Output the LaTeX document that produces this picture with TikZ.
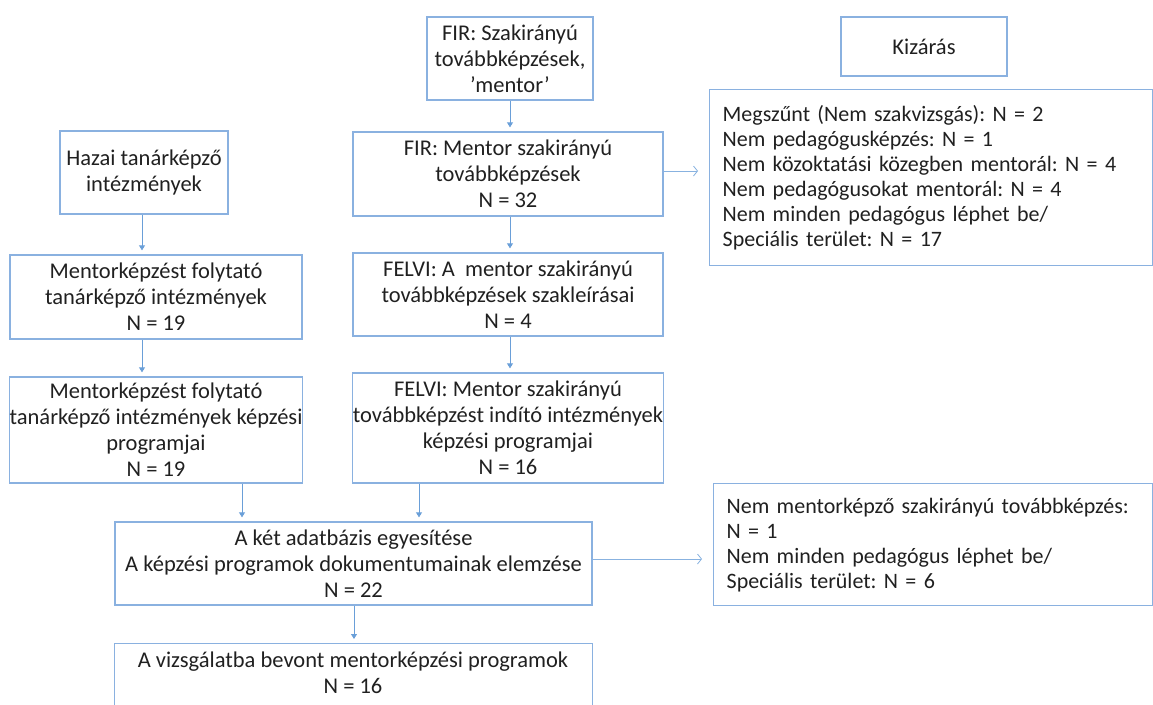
\documentclass[tikz,border=0pt]{standalone}
\usepackage{fontspec}
\setmainfont{Carlito}
\usetikzlibrary{arrows.meta}
\frenchspacing
\definecolor{bordc}{HTML}{8AB1E0}
\definecolor{arrc}{HTML}{6A9FD8}
\definecolor{txtc}{HTML}{202020}
\tikzset{
  box/.style={draw=bordc, line width=1.3pt, rectangle, inner sep=0pt, align=center, text=txtc,
    font=\fontsize{22.5}{26}\selectfont},
  listbox/.style={box, align=left, anchor=north west, inner xsep=13pt,
    font=\fontsize{22}{25}\selectfont},
  darr/.style={draw=arrc, line width=0.8pt, -{Triangle[width=6pt,length=5pt]}, shorten >=4pt},
  rarr/.style={draw=arrc!80, line width=0.8pt, -{Straight Barb[length=4pt,width=10pt]}},
}
\begin{document}
\begin{tikzpicture}[x=1pt,y=-1pt]
\useasboundingbox (0,0) rectangle (1153,704);
% top centre
\node[box, minimum width=166pt, minimum height=83pt] (fir) at (510,58.5)
  {FIR: Szakirányú\\továbbképzések,\\’mentor’};
\node[box, minimum width=166pt, minimum height=59pt] (kiz) at (924,46.5) {Kizárás};
\node[listbox, minimum width=443pt, minimum height=176pt, text width=417pt] (list1) at (709,89)
  {Megszűnt (Nem szakvizsgás): N = 2\\
   Nem pedagógusképzés: N = 1\\
   Nem közoktatási közegben mentorál: N = 4\\
   Nem pedagógusokat mentorál: N = 4\\
   Nem minden pedagógus léphet be/\\
   Speciális terület: N = 17};
\node[box, minimum width=168pt, minimum height=83pt] (haz) at (144,172.5)
  {Hazai tanárképző\\intézmények};
\node[box, minimum width=310pt, minimum height=84pt] (firm) at (508,174)
  {FIR: Mentor szakirányú\\továbbképzések\\N = 32};
\node[box, minimum width=292pt, minimum height=84pt] (l2) at (156,297)
  {Mentorképzést folytató\\tanárképző intézmények\\N = 19};
\node[box, minimum width=310pt, minimum height=83pt] (fa) at (508,294.5)
  {FELVI: A \ mentor szakirányú\\továbbképzések szakleírásai\\N = 4};
\node[box, minimum width=292pt, minimum height=106pt] (l3) at (156,430)
  {Mentorképzést folytató\\tanárképző intézmények képzési\\programjai\\N = 19};
\node[box, minimum width=310pt, minimum height=110pt] (fm) at (508,428)
  {FELVI: Mentor szakirányú\\továbbképzést indító intézmények\\képzési programjai\\N = 16};
\node[box, minimum width=477pt, minimum height=83pt] (mer) at (353.5,563.5)
  {A két adatbázis egyesítése\\A képzési programok dokumentumainak elemzése\\N = 22};
\node[listbox, minimum width=439pt, minimum height=122pt, text width=413pt] (list2) at (713,483)
  {Nem mentorképző szakirányú továbbképzés:\\
   N = 1\\
   Nem minden pedagógus léphet be/\\
   Speciális terület: N = 6};
\node[box, minimum width=478pt, minimum height=90pt, anchor=north west] (bot) at (114,643) {};
\node[text=txtc, font=\fontsize{22.5}{26}\selectfont, align=center, anchor=north] (bott) at (353,648)
  {A vizsgálatba bevont mentorképzési programok\\N = 16};
% coordinates
\coordinate (xa) at (142,0);
\coordinate (xb) at (242,0);
\coordinate (xc) at (419,0);
\coordinate (xd) at (510,0);
\coordinate (xe) at (354,0);
\coordinate (ya) at (0,171);
\coordinate (yb) at (0,559);
\coordinate (ea) at (698,171);
\coordinate (eb) at (702,559);
% arrows
\draw[darr] (fir.south) -- (fir.south |- firm.north);
\draw[darr] (haz.south -| xa) -- (l2.north -| xa);
\draw[darr] (firm.south -| xd) -- (fa.north -| xd);
\draw[darr] (l2.south -| xa) -- (l3.north -| xa);
\draw[darr] (fa.south -| xd) -- (fm.north -| xd);
\draw[darr] (l3.south -| xb) -- (mer.north -| xb);
\draw[darr] (fm.south -| xc) -- (mer.north -| xc);
\draw[darr] (mer.south -| xe) -- (bot.north -| xe);
\draw[rarr] (firm.east |- ya) -- (ea);
\draw[rarr] (mer.east |- yb) -- (eb);
\end{tikzpicture}
\end{document}
